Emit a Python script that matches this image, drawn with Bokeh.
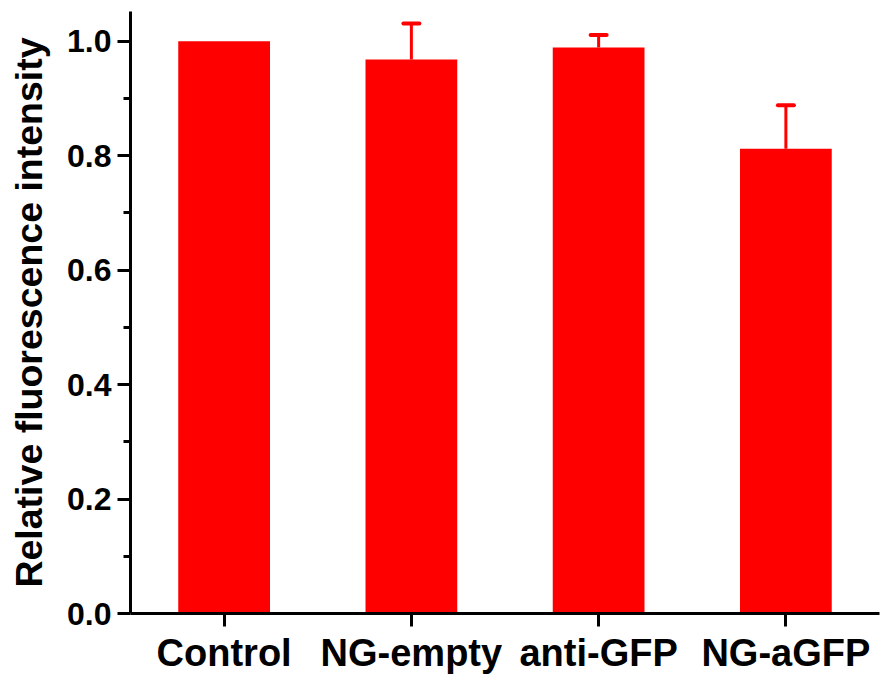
from bokeh.plotting import figure
from bokeh.models import FactorRange, Range1d, FixedTicker, PrintfTickFormatter, Whisker, TeeHead, ColumnDataSource
from bokeh.embed import file_html
from bokeh.resources import INLINE

categories = ["Control", "NG-empty", "anti-GFP", "NG-aGFP"]
values = [1.0, 0.968, 0.989, 0.812]
errors = [0.0, 0.063, 0.022, 0.076]
y_ticks = [0.0, 0.2, 0.4, 0.6, 0.8, 1.0]
y_minor_ticks = [0.1, 0.3, 0.5, 0.7, 0.9]

FONT = "Liberation Sans"
RED = "#FF0000"

p = figure(x_range=FactorRange(factors=categories, range_padding=0),
           y_range=Range1d(0, 1.052),
           width=888, height=679, output_backend="svg", toolbar_location=None,
           min_border_left=130, min_border_right=9, min_border_top=11, min_border_bottom=66)

src = ColumnDataSource(dict(cat=categories, val=values))
p.vbar(x="cat", top="val", width=0.49, source=src, fill_color=RED, line_color=None)

ecats = [c for c, e in zip(categories, errors) if e > 0]
evals = [v for v, e in zip(values, errors) if e > 0]
eups = [v + e for v, e in zip(values, errors) if e > 0]
esrc = ColumnDataSource(dict(cat=ecats, lower=evals, upper=eups))
w = Whisker(base="cat", lower="lower", upper="upper", source=esrc,
            line_color=RED, line_width=3, lower_head=None,
            upper_head=TeeHead(size=16, line_color=RED, line_width=4, line_cap="round"))
p.add_layout(w)

p.xgrid.visible = False
p.ygrid.visible = False
p.outline_line_color = None
p.background_fill_color = "white"
p.border_fill_color = "white"

ya = p.yaxis[0]
ya.ticker = FixedTicker(ticks=y_ticks, minor_ticks=y_minor_ticks)
ya.formatter = PrintfTickFormatter(format="%.1f")
ya.axis_label = "Relative fluorescence intensity"
ya.axis_label_text_font = FONT
ya.axis_label_text_font_style = "bold"
ya.axis_label_text_font_size = "37.5px"
ya.axis_label_text_color = "black"
ya.axis_label_standoff = 14
ya.major_label_text_font = FONT
ya.major_label_text_font_style = "bold"
ya.major_label_text_font_size = "32px"
ya.major_label_text_color = "black"
ya.major_label_standoff = 6
ya.axis_line_width = 3
ya.major_tick_line_width = 3
ya.minor_tick_line_width = 3
ya.major_tick_out = 13
ya.major_tick_in = 0
ya.minor_tick_out = 7
ya.minor_tick_in = 0

xa = p.xaxis[0]
xa.major_label_text_font = FONT
xa.major_label_text_font_style = "bold"
xa.major_label_text_font_size = "38px"
xa.major_label_text_color = "black"
xa.major_label_standoff = 5
xa.axis_line_width = 3
xa.major_tick_line_width = 3
xa.major_tick_out = 13
xa.major_tick_in = 0
xa.minor_tick_line_color = None
xa.major_label_orientation = "horizontal"

open("out.html", "w").write(file_html(p, INLINE))
